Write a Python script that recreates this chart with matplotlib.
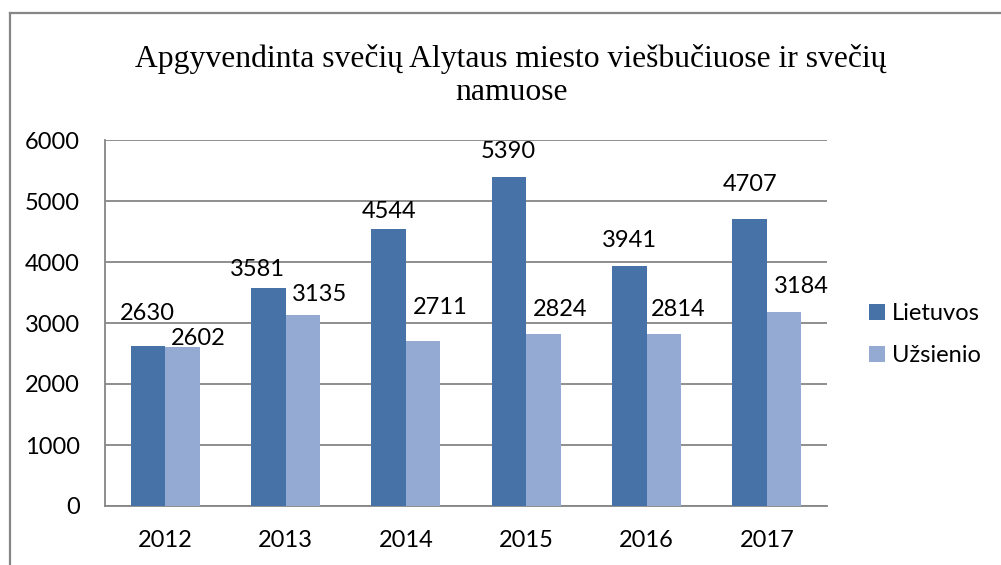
import matplotlib
matplotlib.use("Agg")
import matplotlib.pyplot as plt
import numpy as np
from matplotlib.lines import Line2D
from matplotlib.patches import Patch

years = ['2012', '2013', '2014', '2015', '2016', '2017']
lietuvos = [2630, 3581, 4544, 5390, 3941, 4707]
uzsienio = [2602, 3135, 2711, 2824, 2814, 3184]
series_names = ['Lietuvos', 'Užsienio']
title = 'Apgyvendinta svečių Alytaus miesto viešbučiuose ir svečių\nnamuose'
yticks = [0, 1000, 2000, 3000, 4000, 5000, 6000]

# label offsets (pixels: dx, baseline dy relative to bar top centre)
lt_off = [(-1, -25.6), (-11, -11.3), (0, -10.7), (-1, -19.7), (0, -18.7), (0, -27.6)]
uz_off = [(16, -2.7), (16.5, -13.3), (17, -26.6), (17, -18.0), (14, -18.7), (17, -18.3)]

c_lt = '#4672A8'
c_uz = '#95AAD2'
grey = '#868686'
sans = ['Lato', 'DejaVu Sans']
fs = 17

W, H = 1001, 565
fig = plt.figure(figsize=(W / 100, H / 100), dpi=100)
ax = fig.add_axes([105 / W, 1 - 506 / H, (827 - 105) / W, (506 - 140) / H])

x = np.arange(len(years))
bw = 0.287
b1 = ax.bar(x - bw / 2, lietuvos, bw, color=c_lt, zorder=3)
b2 = ax.bar(x + bw / 2, uzsienio, bw, color=c_uz, zorder=3)

px = 0.72
for i, v in enumerate(lietuvos):
    dx, dy = lt_off[i]
    ax.annotate(str(v), (x[i] - bw / 2, v), xytext=(dx * px, -dy * px),
                textcoords='offset points', ha='center', va='baseline',
                fontsize=fs, family=sans, color='black')
for i, v in enumerate(uzsienio):
    dx, dy = uz_off[i]
    ax.annotate(str(v), (x[i] + bw / 2, v), xytext=(dx * px, -dy * px),
                textcoords='offset points', ha='center', va='baseline',
                fontsize=fs, family=sans, color='black')

ax.set_xlim(-0.5, len(years) - 0.5)
ax.set_ylim(0, 6000)
ax.set_yticks(yticks)
ax.set_yticklabels([str(t) for t in yticks], family=sans, fontsize=fs)
ax.set_xticks(x)
ax.set_xticklabels(years, family=sans, fontsize=fs)
ax.tick_params(axis='y', length=0, pad=18)
ax.tick_params(axis='x', length=0, pad=17)
ax.yaxis.grid(True, color=grey, linewidth=1.3)
ax.set_axisbelow(True)
for s in ['top', 'right']:
    ax.spines[s].set_visible(False)
for s in ['left', 'bottom']:
    ax.spines[s].set_color(grey)
    ax.spines[s].set_linewidth(1.3)

handles = [Patch(facecolor=c_lt), Patch(facecolor=c_uz)]
fig.legend(handles, series_names, loc='upper left',
           bbox_to_anchor=(869 / W, 1 - 303 / H), frameon=False,
           prop={'family': sans, 'size': fs}, handlelength=0.68, handleheight=0.68,
           handletextpad=0.3, labelspacing=0.9, borderpad=0, borderaxespad=0)

fig.text(511 / W, 1 - 44 / H, title, ha='center', va='top', multialignment='center',
         family='Liberation Serif', fontsize=22.8, linespacing=1.2)

fig.add_artist(Line2D([9.5 / W, 9.5 / W], [1 - 13 / H, -0.05], color=grey, lw=1.6,
                      transform=fig.transFigure))
fig.add_artist(Line2D([9.5 / W, 1.05], [1 - 13 / H, 1 - 13 / H], color=grey, lw=1.6,
                      transform=fig.transFigure))

fig.savefig('out.png', dpi=100)
